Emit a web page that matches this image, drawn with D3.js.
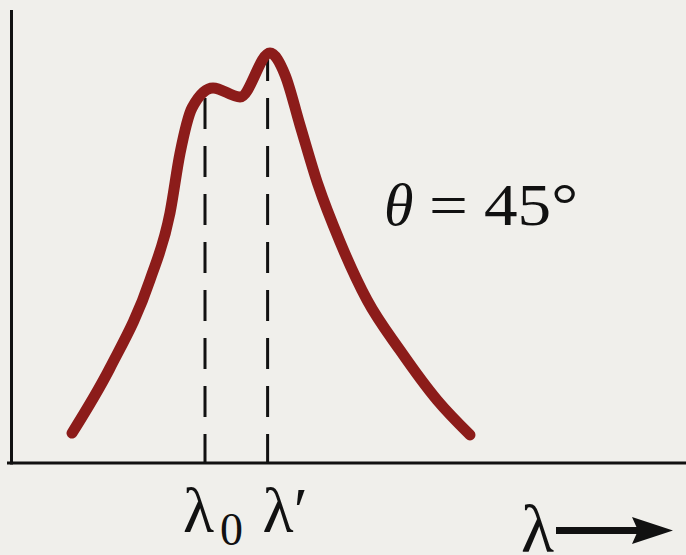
<!DOCTYPE html>
<html>
<head>
<meta charset="utf-8">
<script src="https://cdn.jsdelivr.net/npm/d3@7"></script>
<style>
  html, body { margin: 0; padding: 0; background: #f0efeb; }
  svg { display: block; }
  text { font-family: "Liberation Serif", "DejaVu Serif", serif; fill: #111; }
</style>
</head>
<body>
<svg id="chart" width="686" height="555"></svg>
<script>
// Compton scattering spectrum at theta = 45 degrees (wavelength in pm, relative intensity)
const wavelength = [69.592, 70.023, 70.476, 70.703, 70.817, 70.953, 71.191, 71.497, 71.837,
                    72.007, 72.177, 72.382, 72.631, 72.937, 73.311, 73.731, 74.105];
const intensity  = [0.066, 0.210, 0.404, 0.552, 0.684, 0.784, 0.828, 0.808, 0.905,
                    0.857, 0.746, 0.614, 0.488, 0.360, 0.249, 0.139, 0.062];

// Unshifted and Compton-shifted line positions and their peak heights
const lineNames  = ["λ0", "λ′"];
const lineLambda = [71.1, 71.81];
const lineHeight = [0.826, 0.903];

const angleLabel = "45°";

const svg = d3.select("#chart");
const W = 686, H = 555;

const x = d3.scaleLinear().domain([68.9, 76.55]).range([11, 685.6]);
const y = d3.scaleLinear().domain([0, 1]).range([463, 10]);

// Axes (plain frame lines, no ticks)
svg.append("line")
  .attr("x1", x(68.9) + 0.5).attr("x2", x(68.9) + 0.5)
  .attr("y1", y(1)).attr("y2", y(0) + 1.5)
  .attr("stroke", "#111").attr("stroke-width", 3);
svg.append("line")
  .attr("x1", x(68.9) - 4).attr("x2", W)
  .attr("y1", y(0)).attr("y2", y(0))
  .attr("stroke", "#111").attr("stroke-width", 3);

// Dashed markers at the two peak wavelengths, dashed from the axis upward
lineLambda.forEach((l, i) => {
  svg.append("line")
    .attr("x1", x(l)).attr("x2", x(l))
    .attr("y1", y(0)).attr("y2", y(lineHeight[i]))
    .attr("stroke", "#111").attr("stroke-width", 3)
    .attr("stroke-dasharray", "31,17")
    .attr("stroke-dashoffset", 2);
});

// Spectrum curve
const pts = wavelength.map((w, i) => [w, intensity[i]]);
const line = d3.line()
  .x(d => x(d[0])).y(d => y(d[1]))
  .curve(d3.curveMonotoneX);
svg.append("path")
  .attr("d", line(pts))
  .attr("fill", "none")
  .attr("stroke", "#8c1c1a")
  .attr("stroke-width", 11)
  .attr("stroke-linecap", "round")
  .attr("stroke-linejoin", "round");

// Wavelength labels under the dashed lines
const lab0 = svg.append("text")
  .attr("x", x(lineLambda[0]) - 22).attr("y", 532)
  .style("font-size", "64px");
lab0.append("tspan").text("λ");
lab0.append("tspan").attr("dx", 6).attr("dy", 13).style("font-size", "46px").text("0");

svg.append("text")
  .attr("x", x(lineLambda[1]) - 5).attr("y", 532)
  .style("font-size", "64px")
  .text(lineNames[1]);

// Scattering angle annotation
svg.append("text")
  .attr("transform", "translate(384,225)")
  .style("font-size", "60px").style("font-style", "italic").text("θ");
svg.append("text")
  .attr("transform", "translate(429,225) scale(1.15,1)")
  .style("font-size", "60px").text("=");
svg.append("text")
  .attr("transform", "translate(484,225) scale(1.12,1)")
  .style("font-size", "60px").text(angleLabel);

// Axis label with arrow
svg.append("text").attr("x", 521).attr("y", 552)
  .style("font-size", "68px").text("λ");
svg.append("line")
  .attr("x1", 556).attr("x2", 640)
  .attr("y1", 530.5).attr("y2", 530.5)
  .attr("stroke", "#111").attr("stroke-width", 7);
svg.append("path")
  .attr("d", "M632,517 L673,530.5 L632,544 L638,530.5 Z")
  .attr("fill", "#111");
</script>
</body>
</html>
